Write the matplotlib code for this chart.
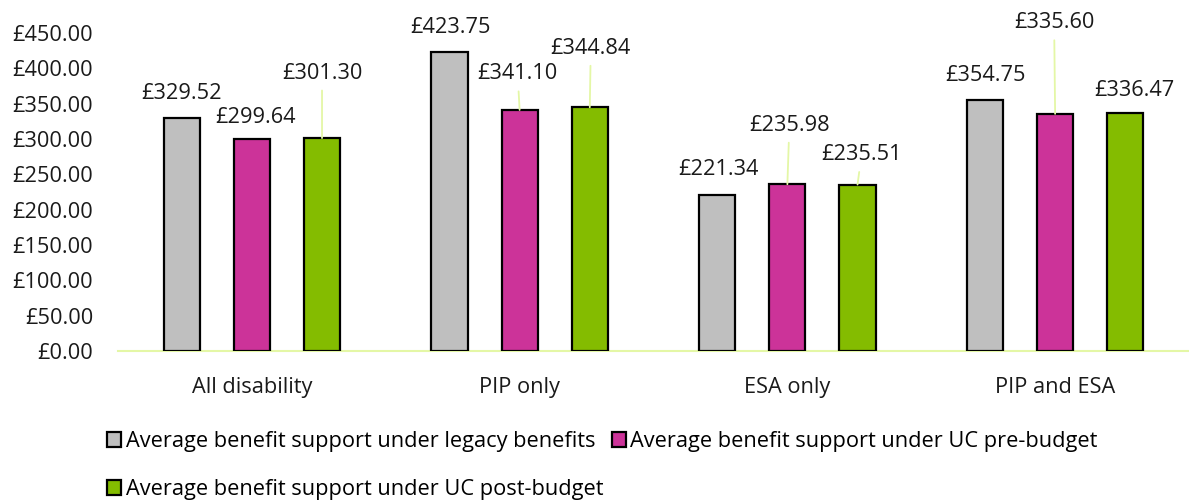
import matplotlib
matplotlib.use("Agg")
import matplotlib.pyplot as plt
import numpy as np

categories = ["All disability", "PIP only", "ESA only", "PIP and ESA"]
series_names = [
    "Average benefit support under legacy benefits",
    "Average benefit support under UC pre-budget",
    "Average benefit support under UC post-budget",
]
legacy = [329.52, 423.75, 221.34, 354.75]
uc_pre = [299.64, 341.10, 235.98, 335.60]
uc_post = [301.30, 344.84, 235.51, 336.47]
y_ticks = [0, 50, 100, 150, 200, 250, 300, 350, 400, 450]

colors = ["#bfbfbf", "#cc3399", "#84bc00"]
leader_color = "#e4f7a6"

# label offsets (pixels) from each bar top: (dx, dy, draw leader line)
label_offsets = [
    [(0, 25, False), (1, 24.5, False), (1, 25.5, False), (1, 25, False)],
    [(4, 22, False), (-2, 36, True), (2, 59, True), (-1, 91, True)],
    [(0, 65, True), (1, 59, True), (4, 30, True), (9, 23, False)],
]

plt.rcParams["font.family"] = ["Open Sans", "DejaVu Sans"]
fs = 15.7

fig = plt.figure(figsize=(11.89, 5.0), dpi=100)
ax = fig.add_axes([118 / 1189, 1 - 351 / 500, 1 - 118 / 1189, (351 - 33) / 500])

x = np.arange(len(categories))
pitch = 0.262
width = 0.135
px = 0.72  # points per pixel at 100 dpi

bars = []
for i, (vals, name) in enumerate(zip([legacy, uc_pre, uc_post], series_names)):
    pos = x + (i - 1) * pitch
    b = ax.bar(pos, vals, width=width, color=colors[i], edgecolor="black",
               linewidth=1.6, label=name, zorder=3)
    bars.append(b)
    for j, v in enumerate(vals):
        dx, dy, leader = label_offsets[i][j]
        kw = {}
        if leader:
            kw["arrowprops"] = dict(arrowstyle="-", color=leader_color, lw=1.3,
                                    shrinkA=3, shrinkB=0)
        ax.annotate(f"£{v:.2f}", xy=(pos[j], v), xytext=(dx * px, dy * px),
                    textcoords="offset points", ha="center", va="center",
                    fontsize=fs, color="#1a1a1a", **kw)

ax.set_xlim(-0.5, len(categories) - 0.5)
ax.set_ylim(0, 450)
ax.set_yticks(y_ticks)
ax.set_yticklabels([f"£{t:.2f}" for t in y_ticks], fontsize=fs, color="#1a1a1a")
ax.set_xticks(x)
ax.set_xticklabels(categories, fontsize=fs, color="#1a1a1a")
ax.tick_params(axis="both", length=0)
ax.tick_params(axis="y", pad=18)
ax.tick_params(axis="x", pad=19)

for side in ["top", "right", "left"]:
    ax.spines[side].set_visible(False)
ax.spines["bottom"].set_color(leader_color)
ax.spines["bottom"].set_linewidth(1.5)

# column-major fill: legacy / post-budget in first column, pre-budget in second
order = [0, 2, 1]
leg = fig.legend([bars[k] for k in order], [series_names[k] for k in order],
                 loc="upper left", bbox_to_anchor=(107 / 1189, 1 - 431 / 500),
                 ncol=2, frameon=False, fontsize=fs, handlelength=0.65,
                 handleheight=0.65, handletextpad=0.2, columnspacing=0.4,
                 labelspacing=1.25, borderaxespad=0, borderpad=0)

fig.savefig("out.png", dpi=100)
